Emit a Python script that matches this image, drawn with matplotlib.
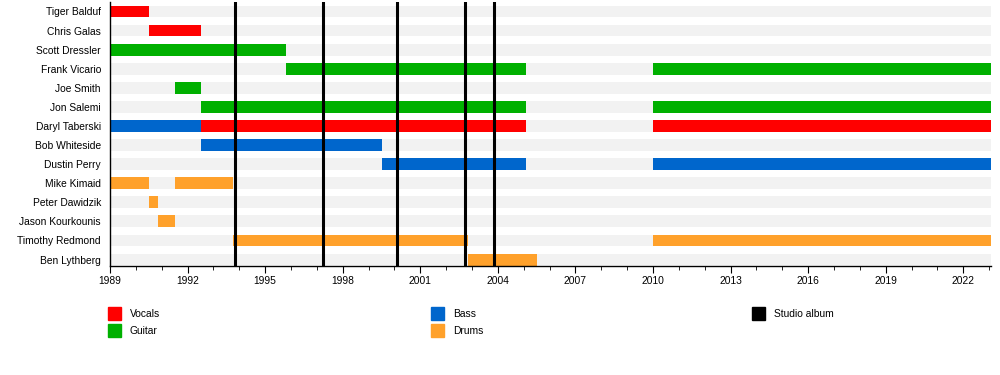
import matplotlib
matplotlib.use('Agg')
import matplotlib.pyplot as plt
from matplotlib.patches import Rectangle

plt.rcParams['font.family'] = ['Liberation Sans', 'DejaVu Sans']

members = ['Tiger Balduf', 'Chris Galas', 'Scott Dressler', 'Frank Vicario',
           'Joe Smith', 'Jon Salemi', 'Daryl Taberski', 'Bob Whiteside',
           'Dustin Perry', 'Mike Kimaid', 'Peter Dawidzik', 'Jason Kourkounis',
           'Timothy Redmond', 'Ben Lythberg']

START, END = 1989.0, 2023.07

# (member, start, end, role)
periods = [
    ('Tiger Balduf', 1989.0, 1990.5, 'Vocals'),
    ('Chris Galas', 1990.5, 1992.5, 'Vocals'),
    ('Scott Dressler', 1989.0, 1995.8, 'Guitar'),
    ('Frank Vicario', 1995.8, 2005.1, 'Guitar'),
    ('Frank Vicario', 2010.0, END, 'Guitar'),
    ('Joe Smith', 1991.5, 1992.5, 'Guitar'),
    ('Jon Salemi', 1992.5, 2005.1, 'Guitar'),
    ('Jon Salemi', 2010.0, END, 'Guitar'),
    ('Daryl Taberski', 1989.0, 1992.5, 'Bass'),
    ('Daryl Taberski', 1992.5, 2005.1, 'Vocals'),
    ('Daryl Taberski', 2010.0, END, 'Vocals'),
    ('Bob Whiteside', 1992.5, 1999.5, 'Bass'),
    ('Dustin Perry', 1999.5, 2005.1, 'Bass'),
    ('Dustin Perry', 2010.0, END, 'Bass'),
    ('Mike Kimaid', 1989.0, 1990.5, 'Drums'),
    ('Mike Kimaid', 1991.5, 1993.76, 'Drums'),
    ('Peter Dawidzik', 1990.5, 1990.85, 'Drums'),
    ('Jason Kourkounis', 1990.85, 1991.5, 'Drums'),
    ('Timothy Redmond', 1993.76, 2002.84, 'Drums'),
    ('Timothy Redmond', 2010.0, END, 'Drums'),
    ('Ben Lythberg', 2002.84, 2005.5, 'Drums'),
]

albums = [1993.83, 1997.24, 2000.1, 2002.73, 2003.85]

role_colors = {'Vocals': '#ff0000', 'Guitar': '#00b000',
               'Bass': '#0066cc', 'Drums': '#ffa12b'}

BAR_H = 0.62
FS = 7.4

fig = plt.figure(figsize=(10, 3.75), dpi=100)
ax = fig.add_axes([0.110, 0.292, 0.881, 0.703])

rows = {m: i for i, m in enumerate(members)}
ax.barh(range(len(members)), END - START, left=START, height=BAR_H,
        color='#f2f2f2', zorder=1)
for m, s, e, r in periods:
    ax.barh(rows[m], e - s, left=s, height=BAR_H, color=role_colors[r], zorder=2)
for a in albums:
    ax.axvline(a, color='black', linewidth=2.2, zorder=3)

ax.set_xlim(START, END)
ax.set_ylim(len(members) - 1 + BAR_H / 2, -0.5)
ax.set_yticks(range(len(members)))
ax.set_yticklabels(members, fontsize=FS)
ax.tick_params(axis='y', length=0, pad=6.5)
ax.set_xticks(range(1989, 2023, 3))
ax.set_xticks(range(1989, 2024), minor=True)
ax.tick_params(axis='x', which='major', length=5, labelsize=FS, pad=2.5)
ax.tick_params(axis='x', which='minor', length=3)
for side in ('top', 'right'):
    ax.spines[side].set_visible(False)
ax.spines['left'].set_linewidth(1.0)
ax.spines['bottom'].set_linewidth(1.0)

# legend
legend_items = [('Vocals', role_colors['Vocals'], 108, 307),
                ('Guitar', role_colors['Guitar'], 108, 324),
                ('Bass', role_colors['Bass'], 431, 307),
                ('Drums', role_colors['Drums'], 431, 324),
                ('Studio album', 'black', 752, 307)]
W, H = 1000, 375
for label, col, px, py in legend_items:
    fig.add_artist(Rectangle((px / W, 1 - (py + 13) / H), 13 / W, 13 / H,
                             transform=fig.transFigure, color=col))
    fig.text((px + 22) / W, 1 - (py + 7) / H, label, fontsize=FS, va='center')

fig.savefig('out.png', dpi=100)
